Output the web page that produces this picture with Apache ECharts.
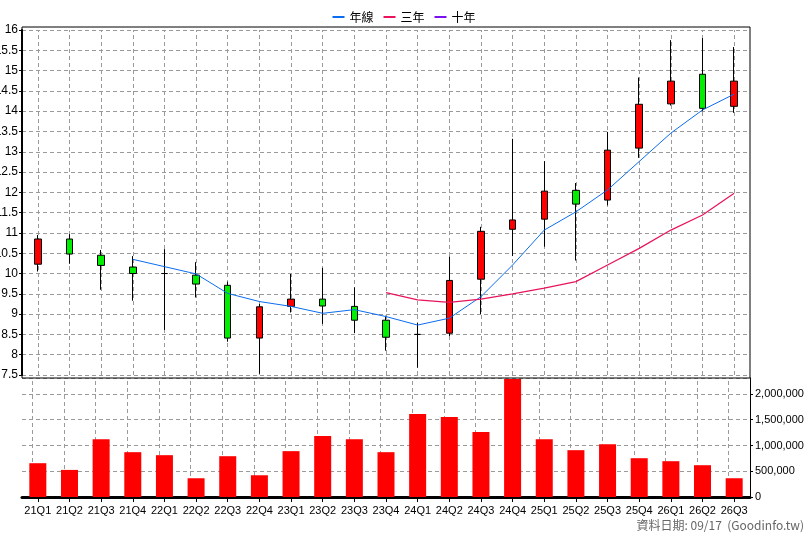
<!DOCTYPE html>
<html><head><meta charset="utf-8">
<script src="https://cdn.jsdelivr.net/npm/echarts@6/dist/echarts.min.js"></script>
<style>html,body{margin:0;padding:0;background:#fff}#c{width:808px;height:540px}</style>
</head><body><div id="c"></div>
<script>
const categories=['21Q1','21Q2','21Q3','21Q4','22Q1','22Q2','22Q3','22Q4','23Q1','23Q2','23Q3','23Q4','24Q1','24Q2','24Q3','24Q4','25Q1','25Q2','25Q3','25Q4','26Q1','26Q2','26Q3'];
// [open, close, low, high]
const ohlc=[
[10.23,10.85,10.05,10.95],[10.85,10.48,10.24,10.97],[10.45,10.2,9.6,10.58],[10.16,10.0,9.33,10.43],
[10.0,10.0,8.61,10.6],[9.96,9.74,9.41,10.28],[9.71,8.41,8.32,9.8],[8.41,9.18,7.53,9.25],
[9.19,9.37,9.04,9.99],[9.37,9.2,8.76,10.14],[9.19,8.85,8.53,9.66],[8.85,8.43,8.1,8.96],
[8.5,8.5,7.68,8.78],[8.53,9.83,8.46,10.42],[9.86,11.04,9.0,11.15],[11.09,11.32,10.43,13.32],
[11.34,12.03,10.66,12.77],[12.05,11.71,10.32,12.23],[11.81,13.04,11.68,13.49],[13.09,14.17,12.85,14.83],
[14.18,14.74,14.14,15.75],[14.91,14.07,14.0,15.8],[14.12,14.74,13.96,15.58]];
const yearLine=[null,null,null,10.35,10.17,9.99,9.51,9.31,9.19,9.02,9.11,8.94,8.73,8.9,9.43,10.21,11.07,11.52,12.06,12.76,13.46,14.03,14.42];
const threeYear=[null,null,null,null,null,null,null,null,null,null,null,9.53,9.35,9.29,9.37,9.5,9.64,9.8,10.21,10.62,11.07,11.44,11.98];
const tenYear=[];
const volume=[656000,526000,1123000,870000,812000,364000,792000,422000,890000,1182000,1123000,870000,1610000,1552000,1260000,2292000,1123000,909000,1026000,753000,695000,617000,364000];
</script>
<script>
const cat=categories;
const ch=echarts.init(document.getElementById('c'));
const font='Liberation Sans, Arial, sans-serif';
const dash={color:'#9a9a9a',type:[4,3],width:1};
const vlines=()=>({silent:true,symbol:'none',label:{show:false},lineStyle:dash,data:cat.map(c=>({xAxis:c})),animation:false});
ch.setOption({
 animation:false,
 textStyle:{fontFamily:font},
 legend:{top:6,left:'center',itemWidth:12,itemHeight:2,itemGap:10,icon:'rect',
  textStyle:{fontFamily:'Noto Sans CJK TC',fontSize:12,color:'#000'},
  data:['年線','三年','十年']},
 grid:[{left:22,right:58,top:30,height:345,containLabel:false,outerBoundsMode:'none'},
       {left:22,right:58,top:378,height:119,containLabel:false,outerBoundsMode:'none'}],
 xAxis:[
  {type:'category',data:cat,gridIndex:0,axisLine:{show:false},axisTick:{show:false},axisLabel:{show:false},splitLine:{show:false}},
  {type:'category',data:cat,gridIndex:1,axisLine:{lineStyle:{color:'#000',width:3}},axisTick:{show:true,alignWithLabel:true,lineStyle:{color:'#000'}},
   axisLabel:{color:'#000',fontSize:11,margin:8,interval:0},splitLine:{show:false}}],
 yAxis:[
  {type:'value',gridIndex:0,min:7.5,max:16,interval:0.5,position:'left',
   axisLine:{show:true,lineStyle:{color:'#000',width:2}},axisTick:{show:true,length:3,lineStyle:{color:'#000'}},
   axisLabel:{color:'#000',fontSize:12,margin:4,formatter:v=>String(v)},splitLine:{lineStyle:dash}},
  {type:'value',gridIndex:1,min:0,max:2310000,interval:500000,position:'right',
   axisLine:{show:true,lineStyle:{color:'#000',width:1}},axisTick:{show:true,length:3,lineStyle:{color:'#000'}},
   axisLabel:{color:'#000',fontSize:11,margin:5,formatter:v=>v.toLocaleString('en-US'),showMaxLabel:false},splitLine:{lineStyle:dash}}],
 graphic:[{type:'rect',shape:{x:22,y:27,width:728,height:351},style:{fill:'none',stroke:'#000',lineWidth:1},silent:true,z:100},
  {type:'text',right:4,top:519,style:{text:'資料日期: 09/17  (Goodinfo.tw)',fill:'#666',font:'12px "Noto Sans CJK TC"'}}],
 series:[
  {type:'line',xAxisIndex:0,yAxisIndex:0,data:[],z:0,markLine:vlines()},
  {type:'bar',xAxisIndex:1,yAxisIndex:1,data:[],z:0,markLine:vlines()},
  {type:'candlestick',xAxisIndex:0,yAxisIndex:0,data:ohlc,barWidth:7,z:5,
   itemStyle:{color:'#ff0000',color0:'#00ee00',borderColor:'#000',borderColor0:'#000',borderWidth:1}},
  {name:'年線',type:'line',xAxisIndex:0,yAxisIndex:0,data:yearLine,symbol:'none',z:6,lineStyle:{color:'#0a6cf0',width:1},color:'#0a6cf0'},
  {name:'三年',type:'line',xAxisIndex:0,yAxisIndex:0,data:threeYear,symbol:'none',z:6,lineStyle:{color:'#e8135c',width:1.2},color:'#e8135c'},
  {name:'十年',type:'line',xAxisIndex:0,yAxisIndex:0,data:tenYear,symbol:'none',z:6,lineStyle:{color:'#7a12f0',width:1.2},color:'#7a12f0'},
  {type:'bar',xAxisIndex:1,yAxisIndex:1,data:volume,barWidth:17,z:5,barGap:'-100%',itemStyle:{color:'#ff0000'}}
 ]
});
</script></body></html>
